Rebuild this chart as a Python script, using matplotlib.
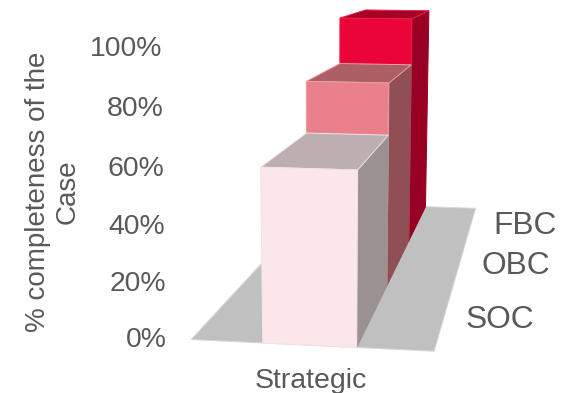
import matplotlib
matplotlib.use('Agg')
import matplotlib.pyplot as plt
from matplotlib.patches import Polygon
import numpy as np

plt.rcParams['font.family'] = ['Liberation Sans', 'DejaVu Sans']

# data
categories = ['Strategic']
series_names = ['SOC', 'OBC', 'FBC']
series_values = [60, 80, 100]
y_ticks = [0, 20, 40, 60, 80, 100]

# styles, front to back
front_cols = ['#FBE6E9', '#E9808B', '#EA0437']
top_cols = ['#BDAEB1', '#AD5F66', '#A50026']
side_cols = ['#9C9192', '#8F4F54', '#970023']
edge_cols = ['#F3E3E5', '#EFA0A8', '#EE1C4A']
floor_col = '#C0C0C0'
text_col = '#595959'

BAR_L, BAR_R = 0.30, 0.687

# camera calibration: (across, depth, height) -> image pixel
world = np.array([
    (0, 0, 0), (1, 0, 0), (1, 3, 0),
    (BAR_L, 0, 0), (BAR_R, 0, 0), (BAR_L, 0, 60), (BAR_R, 0, 60),
    (BAR_R, 1, 0), (BAR_R, 1, 60), (BAR_L, 1, 60),
    (BAR_L, 1, 80), (BAR_R, 1, 80), (BAR_L, 2, 80), (BAR_R, 2, 80), (BAR_R, 2, 0),
    (BAR_L, 2, 100), (BAR_R, 2, 100), (BAR_L, 3, 100), (BAR_R, 3, 100), (BAR_R, 3, 0),
], dtype=float)
image = np.array([
    (190, 339), (433, 352), (475, 208),
    (263, 343), (357, 348), (261, 167), (358, 170),
    (388, 285), (388, 135), (306, 133),
    (307, 82), (389, 83), (340, 64), (411, 65), (409, 240),
    (340, 18), (412, 19), (365, 10), (429, 10), (426, 208),
], dtype=float)

rows, rhs = [], []
for (a, b, c), (u, v) in zip(world, image):
    rows.append([a, b, c, 1, 0, 0, 0, 0, -u * a, -u * b, -u * c])
    rhs.append(u)
    rows.append([0, 0, 0, 0, a, b, c, 1, -v * a, -v * b, -v * c])
    rhs.append(v)
P = np.append(np.linalg.lstsq(np.array(rows), np.array(rhs), rcond=None)[0], 1).reshape(3, 4)


def project(a, b, c):
    u, v, w = P @ np.array([a, b, c, 1.0])
    return u / w, v / w


fig = plt.figure(figsize=(5.67, 3.93), dpi=100, facecolor='white')
ax = fig.add_axes([0, 0, 1, 1])
ax.set_xlim(0, 567)
ax.set_ylim(393, 0)
ax.axis('off')


def face(corners, col, edge=None):
    pts = [project(*c) for c in corners]
    ax.add_patch(Polygon(pts, closed=True, facecolor=col, edgecolor=edge or col, linewidth=0.7))


# floor
face([(0, 0, 0), (1, 0, 0), (1, 3, 0), (0, 3, 0)], floor_col, '#D8D8D8')

# bars, back row first
for i in reversed(range(len(series_values))):
    val = series_values[i]
    d0, d1 = i, i + 1
    face([(BAR_R, d0, 0), (BAR_R, d1, 0), (BAR_R, d1, val), (BAR_R, d0, val)], side_cols[i])
    face([(BAR_L, d0, val), (BAR_R, d0, val), (BAR_R, d1, val), (BAR_L, d1, val)], top_cols[i], edge_cols[i])
    face([(BAR_L, d0, 0), (BAR_R, d0, 0), (BAR_R, d0, val), (BAR_L, d0, val)], front_cols[i], edge_cols[i])

# value axis labels, the axis leans slightly in perspective
tick_rows = [340, 284, 227, 168.5, 109, 49]
for t, y in zip(y_ticks, tick_rows):
    ax.text(167 - t * 0.05, y, f'{t}%', fontsize=20.4, color=text_col, ha='right', va='center')

ax.text(53, 192, '% completeness of the\nCase', fontsize=20, color=text_col, rotation=90,
        ha='center', va='center', linespacing=1.2, multialignment='center')

# depth axis labels
for name, (x, y) in zip(series_names, [(465.5, 320), (481.5, 266.5), (493.5, 226.5)]):
    ax.text(x, y, name, fontsize=22.8, color=text_col, ha='left', va='center')

ax.text(310.5, 381, categories[0], fontsize=20.5, color=text_col, ha='center', va='center')

fig.savefig('out.png', dpi=100, facecolor='white')
plt.close()
